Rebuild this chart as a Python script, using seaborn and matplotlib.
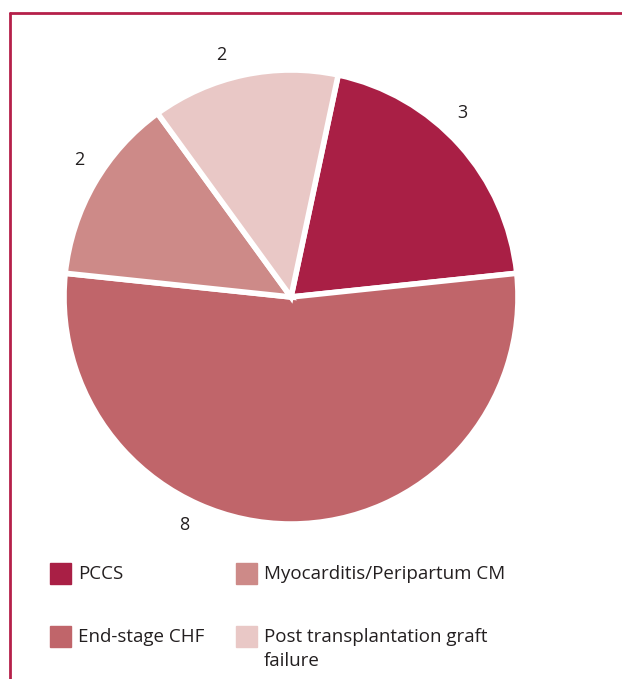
import numpy as np
import matplotlib
matplotlib.use("Agg")
import matplotlib.pyplot as plt
import seaborn as sns
from matplotlib.patches import Rectangle
from matplotlib.lines import Line2D

sns.set_theme(style="white")
plt.rcParams['font.family'] = ['Open Sans', 'DejaVu Sans']

# Data
categories = ['PCCS', 'End-stage CHF', 'Myocarditis/Peripartum CM', 'Post transplantation graft\nfailure']
counts = [3, 8, 2, 2]
colors = ['#A91F45', '#C0656A', '#CD8A88', '#E9C8C6']
text_color = '#231F20'
frame_color = '#B5204A'

fig = plt.figure(figsize=(6.22, 6.79), dpi=100)
W, H = 622, 679

# pie axes (center ~ (291, 297) px, radius ~ 227 px)
cx, cy, r = 291, 297, 227
ax = fig.add_axes([(cx - r) / W, (H - cy - r) / H, 2 * r / W, 2 * r / H])
wedges, _ = ax.pie(counts, colors=colors, startangle=78, counterclock=False,
                   wedgeprops=dict(edgecolor='white', linewidth=4), radius=1)
ax.set_xlim(-1, 1)
ax.set_ylim(-1, 1)
ax.set_aspect('equal')
ax.axis('off')

# value labels outside the wedges (angle nudges to match original placement)
shift = [5, -25, -3, 4]
for i, w in enumerate(wedges):
    ang = np.deg2rad((w.theta1 + w.theta2) / 2 + shift[i])
    ax.text(1.11 * np.cos(ang), 1.11 * np.sin(ang), str(counts[i]),
            ha='center', va='center', fontsize=13, color=text_color, clip_on=False)

# frame (top and left lines)
fig.add_artist(Line2D([10 / W, 1], [1 - 13 / H, 1 - 13 / H], color=frame_color, lw=2, transform=fig.transFigure))
fig.add_artist(Line2D([10 / W, 10 / W], [0, 1 - 13 / H], color=frame_color, lw=2, transform=fig.transFigure))

# legend, two columns
legend_pos = [(50, 573), (50, 636), (236, 573), (236, 636)]
for (lx, ly), lab, c in zip(legend_pos, categories, colors):
    fig.add_artist(Rectangle((lx / W, (H - ly - 11) / H), 21 / W, 21 / H, color=c, transform=fig.transFigure))
    fig.text((lx + 28) / W, (H - ly + 8) / H, lab, ha='left', va='top', fontsize=13.5,
             color=text_color, linespacing=1.45)

plt.savefig('out.png', dpi=100)
